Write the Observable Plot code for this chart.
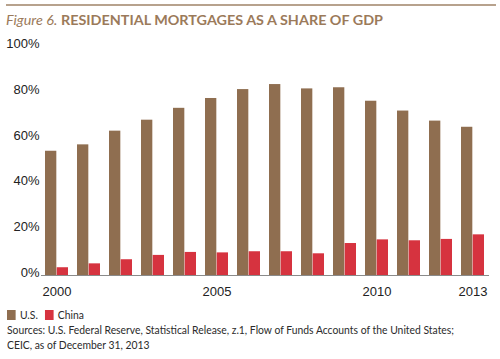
<!DOCTYPE html>
<html><head><meta charset="utf-8">
<script src="https://cdn.jsdelivr.net/npm/d3@7"></script>
<script src="https://cdn.jsdelivr.net/npm/@observablehq/plot@0.6"></script>
<style>
body{margin:0;background:#fff;font-family:Lato,"Liberation Sans",Arial,sans-serif;}
#wrap{width:500px;height:359px;position:relative;overflow:hidden;background:#fff}
#rule{position:absolute;left:6px;top:4px;width:490px;height:2px;background:#b7a28d}
#title{position:absolute;left:6px;top:12px;font-size:13.5px;line-height:16px;color:#9b7a5a;white-space:nowrap;transform-origin:0 0}
#title i{font-weight:normal}
#title b{font-weight:bold}
#chart{position:absolute;left:0;top:32px}
#foot{position:absolute;left:7px;top:308px;font-size:12px;line-height:15px;color:#2b2b2b;white-space:nowrap;transform-origin:0 0}
.sw{display:inline-block;width:10px;height:10px;vertical-align:-1px;margin-right:5px}
#legend{height:14px;line-height:14px}
</style></head>
<body><div id="wrap">
<div id="rule"></div>
<div id="title"><i>Figure 6.</i> <b>RESIDENTIAL MORTGAGES AS A SHARE OF GDP</b></div>
<div id="chart"></div>
<div id="foot">
<div id="legend"></div>
<div id="src1">Sources: U.S. Federal Reserve, Statistical Release, z.1, Flow of Funds Accounts of the United States;</div>
<div>CEIC, as of December 31, 2013</div>
</div>
</div>
<script>
const years = [2000,2001,2002,2003,2004,2005,2006,2007,2008,2009,2010,2011,2012,2013];
const us = [54.4,57.2,63.2,68.0,73.2,77.5,81.4,83.6,81.7,82.2,76.3,72.0,67.6,64.9];
const china = [3.4,5.1,6.9,8.8,10.1,9.9,10.4,10.4,9.5,14.0,15.6,15.2,15.8,17.8];
const seriesNames = ["U.S.","China"];
const seriesColors = ["#8f6e50","#d6333f"];
const yTicks = [0,20,40,60,80,100];
const xTicks = [2000,2005,2010,2013];

const usData = years.map((y,i)=>({year:y, value:us[i]}));
const cnData = years.map((y,i)=>({year:y, value:china[i]}));

const W = 500, H = 268, mL = 41, mR = 11;
const pi = 0.27, po = 0.135;
const step = (W - mL - mR) / (years.length - pi + 2*po);
const half = step * (1 - pi) / 2;

const chart = Plot.plot({
  width: W, height: H,
  marginLeft: mL, marginRight: mR, marginTop: 14.6, marginBottom: 25,
  style: {fontSize: "13px", fontFamily: "'Liberation Sans', Arial, sans-serif", color: "#222", background: "transparent"},
  x: {type: "band", domain: years, paddingInner: pi, paddingOuter: po, label: null},
  y: {domain: [0,100], label: null},
  marks: [
    Plot.barY(usData, {x: "year", y: "value", fill: seriesColors[0], insetRight: half}),
    Plot.barY(cnData, {x: "year", y: "value", fill: seriesColors[1], insetLeft: half}),
    Plot.ruleY([0], {stroke: "#8a8a8a", strokeWidth: 1}),
    Plot.axisY({ticks: yTicks, tickSize: 0, tickPadding: 2, tickFormat: d => d + "%", dy: -3, label: null}),
    Plot.axisX({ticks: xTicks, tickSize: 0, tickPadding: 11, tickFormat: d => String(d), label: null})
  ]
});
document.getElementById("chart").appendChild(chart);

const legend = document.getElementById("legend");
seriesNames.forEach((n,i)=>{
  const s = document.createElement("span");
  s.className = "sw"; s.style.background = seriesColors[i];
  legend.appendChild(s);
  const t = document.createElement("span");
  t.textContent = n; t.style.marginRight = "8px";
  legend.appendChild(t);
});

// fit widths to the reference's condensed type
const title = document.getElementById("title");
const tw = title.getBoundingClientRect().width;
title.style.transform = `scaleX(${377/tw})`;
const src1 = document.getElementById("src1");
const sw = src1.getBoundingClientRect().width;
document.getElementById("foot").style.transform = `scaleX(${447/sw})`;
</script>
</body></html>
